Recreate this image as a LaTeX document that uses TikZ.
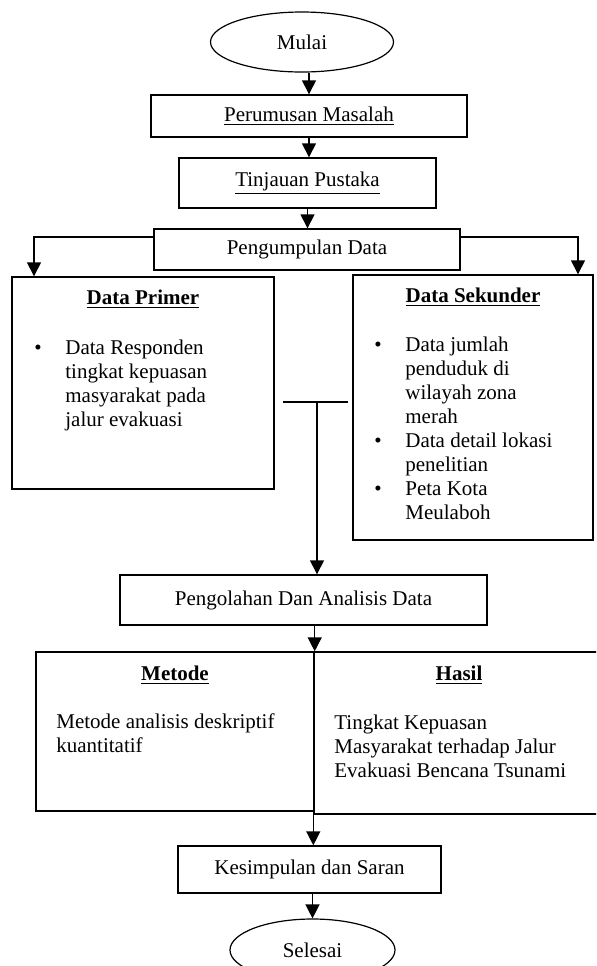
\documentclass[tikz,border=0pt]{standalone}
\usepackage{fontspec}
\setmainfont{Liberation Serif}
\usetikzlibrary{arrows.meta, positioning, calc, shapes.geometric}

\begin{document}
\begin{tikzpicture}[
    x=0.5pt, y=-0.5pt,
    font=\fontsize{10.5}{12}\selectfont,
    arr/.style={-{Triangle[length=7pt, width=7pt]}, line width=0.7pt},
    box/.style={draw, rectangle, line width=0.7pt, inner sep=0pt},
    oval/.style={draw, ellipse, line width=0.6pt, inner sep=0pt},
    judul/.style={font=\fontsize{10.5}{12}\selectfont\bfseries, inner sep=0pt},
    isi/.style={anchor=base west, inner sep=0pt}
]
\useasboundingbox (0,0) rectangle (596,966);
\clip (0,0) rectangle (596,966);

% main column
\node[oval, minimum width=91.5pt, minimum height=30pt] (mulai) at (302,42) {Mulai};
\node[box, minimum width=158pt, minimum height=21pt] (rumus) at (309,116)
  {\underline{Perumusan Masalah}};
\node[box, minimum width=128.5pt, minimum height=25pt] (tinjau) at (307.5,183)
  {\underline{Tinjauan Pustaka}};
\node[box, minimum width=153pt, minimum height=20.5pt] (kumpul) at (307,249.5)
  {Pengumpulan Data};

% data boxes
\node[box, minimum width=131pt, minimum height=106pt] (primer) at (143,383) {};
\node[judul] (tprimer) at (143,299) {\underline{Data Primer}};
\node[isi] (lprimer) at (34,354) {\begin{tabular}[t]{@{}p{15.5pt}@{}l@{}}
  \textbullet & Data Responden\\
              & tingkat kepuasan\\
              & masyarakat pada\\
              & jalur evakuasi
  \end{tabular}};

\node[box, minimum width=120pt, minimum height=132.5pt] (sekunder) at (473,407.5) {};
\node[judul] (tsekunder) at (473,297) {\underline{Data Sekunder}};
\node[isi] (lsekunder) at (374,351) {\begin{tabular}[t]{@{}p{15.5pt}@{}l@{}}
  \textbullet & Data jumlah\\
              & penduduk di\\
              & wilayah zona\\
              & merah\\
  \textbullet & Data detail lokasi\\
              & penelitian\\
  \textbullet & Peta Kota\\
              & Meulaboh
  \end{tabular}};

\node[box, minimum width=183.5pt, minimum height=25pt] (olah) at (303.5,600)
  {Pengolahan Dan Analisis Data};

% metode / hasil
\node[box, minimum width=139pt, minimum height=79.5pt] (metode) at (175,731.5) {};
\node[judul] (tmetode) at (175,675) {\underline{Metode}};
\node[isi] (lmetode) at (56,728) {\begin{tabular}[t]{@{}l@{}}
  Metode analisis deskriptif\\
  kuantitatif
  \end{tabular}};

\node[box, minimum width=145pt, minimum height=81pt] (hasil) at (459,733) {};
\node[judul] (thasil) at (459,675) {\underline{Hasil}};
\node[isi] (lhasil) at (334,729) {\begin{tabular}[t]{@{}l@{}}
  Tingkat Kepuasan\\
  Masyarakat terhadap Jalur\\
  Evakuasi Bencana Tsunami
  \end{tabular}};

\node[box, minimum width=131.5pt, minimum height=23.5pt] (simpul) at (309.5,869.5)
  {Kesimpulan dan Saran};
\node[oval, minimum width=82.5pt, minimum height=31pt] (selesai) at (312.5,950) {Selesai};

% connectors
\coordinate (kl) at (34,237);
\coordinate (kr) at (578,237);
\coordinate (jl) at (283,402);
\coordinate (jr) at (348,402);
\coordinate (jm) at (317,402);

\draw[arr] (rumus.north |- mulai.south) -- (rumus.north);
\draw[arr] (rumus.south) -- (rumus.south |- tinjau.north);
\draw[arr] (tinjau.south) -- (tinjau.south |- kumpul.north);
\draw[arr] (kumpul.west |- kl) -- (kl) -- (primer.north -| kl);
\draw[arr] (kumpul.east |- kr) -- (kr) -- (sekunder.north -| kr);
\draw[line width=0.7pt] (jl) -- (jr);
\draw[arr] (jm) -- (olah.north -| jm);
\draw[arr] (olah.south -| metode.north east) -- (metode.north east);
\draw[arr] (hasil.south west) -- (simpul.north -| hasil.south west);
\draw[arr] (simpul.south -| selesai.north) -- (selesai.north);
\end{tikzpicture}
\end{document}
